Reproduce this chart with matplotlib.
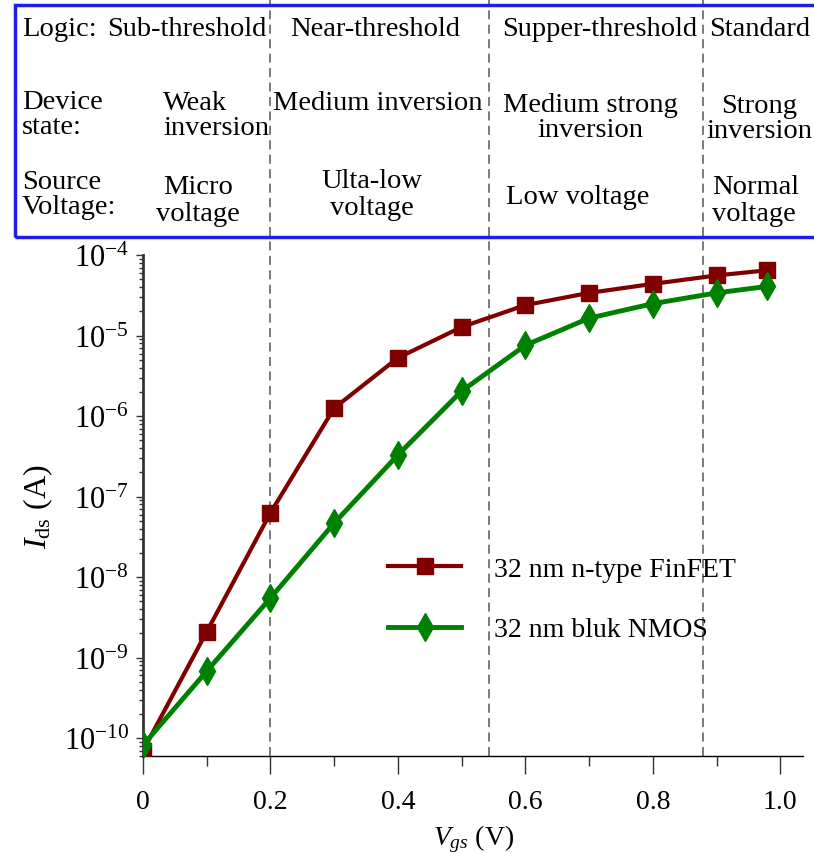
import matplotlib.pyplot as plt
from matplotlib.patches import Rectangle
from matplotlib.ticker import FixedLocator, FixedFormatter, LogLocator, NullFormatter

plt.rcParams['font.family'] = ['Liberation Serif', 'DejaVu Serif']
plt.rcParams['mathtext.fontset'] = 'custom'
plt.rcParams['mathtext.rm'] = 'Liberation Serif'
plt.rcParams['mathtext.it'] = 'Liberation Serif:italic'

# data
vgs = [0.0, 0.1, 0.2, 0.3, 0.4, 0.5, 0.6, 0.7, 0.8, 0.9, 0.98]
ids_finfet = [0.7e-10, 2.1e-9, 6.3e-8, 1.26e-6, 5.3e-6, 1.28e-5, 2.4e-5, 3.4e-5, 4.4e-5, 5.6e-5, 6.5e-5]
ids_nmos = [0.82e-10, 0.68e-9, 5.5e-9, 4.7e-8, 3.3e-7, 2.05e-6, 7.6e-6, 1.65e-5, 2.5e-5, 3.4e-5, 4.1e-5]
region_bounds = [0.2, 0.543, 0.879]

xticks = [0, 0.2, 0.4, 0.6, 0.8, 1.0]
xtick_labels = ['0', '0.2', '0.4', '0.6', '0.8', '1.0']
yticks = [1e-10, 1e-9, 1e-8, 1e-7, 1e-6, 1e-5, 1e-4]
ytick_labels = ['10$^{-10}$', '10$^{-9}$', '10$^{-8}$', '10$^{-7}$', '10$^{-6}$', '10$^{-5}$', '10$^{-4}$']

fig = plt.figure(figsize=(8.14, 8.54), dpi=100)
ax = fig.add_axes([0.1757, 0.1136, 0.811, 0.5864])

ax.plot(vgs, ids_finfet, color='#800000', lw=3, marker='s', ms=11, label='32 nm n-type FinFET', zorder=3)
ax.plot(vgs, ids_nmos, color='#008000', lw=3.5, marker='d', ms=14, label='32 nm bluk NMOS', zorder=3)

ax.set_yscale('log')
ax.set_xlim(0, 1.036)
ax.set_ylim(0.6e-10, 1e-4)

ax.yaxis.set_major_locator(FixedLocator(yticks))
ax.yaxis.set_major_formatter(FixedFormatter(ytick_labels))
ax.yaxis.set_minor_locator(LogLocator(base=10, subs=range(2, 10)))
ax.yaxis.set_minor_formatter(NullFormatter())
ax.set_xticks(xticks)
ax.set_xticklabels(xtick_labels)
ax.set_xticks([0.1, 0.3, 0.5, 0.7, 0.9], minor=True)

ax.tick_params(axis='x', which='major', direction='out', length=13, width=1, labelsize=20, pad=11, color='#333333')
ax.tick_params(axis='x', which='minor', direction='out', length=7, width=1, color='#333333')
ax.tick_params(axis='y', which='major', direction='out', length=5, width=1, labelsize=22, pad=5, color='#333333')
ax.tick_params(axis='y', which='minor', direction='out', length=3, width=1, color='#333333')

ax.spines['top'].set_visible(False)
ax.spines['right'].set_visible(False)
ax.spines['left'].set_color('#333333')
ax.spines['left'].set_linewidth(2)
ax.spines['bottom'].set_color('black')
ax.spines['bottom'].set_linewidth(1)

for xb in region_bounds:
    ax.axvline(xb, ymin=0, ymax=1.52, color='#707070', lw=1.3, ls=(0, (5, 3)), clip_on=False, zorder=1)

ax.set_xlabel('$V_{gs}$ (V)', fontsize=20, labelpad=6)
ax.set_ylabel('$I_{\\rm ds}$ (A)', fontsize=23, labelpad=6)

ax.legend(loc='upper left', bbox_to_anchor=(0.355, 0.42), frameon=False, fontsize=20,
          handlelength=2.6, handletextpad=1.2, labelspacing=1.25, borderaxespad=0)

# header box with regions
fig.patches.append(Rectangle((0.0184, 0.7213), 1.0, 0.272, transform=fig.transFigure,
                             fill=False, edgecolor='#1f1fe6', lw=2.5))

def ftext(x, y, s, ha='left', ls=1.0):
    fig.text(x / 814, 1 - y / 854, s, ha=ha, va='center', fontsize=20.5, linespacing=ls)

ftext(22, 30, 'Logic:')
ftext(107, 30, 'Sub-threshold')
ftext(375, 30, 'Near-threshold', ha='center')
ftext(600, 30, 'Supper-threshold', ha='center')
ftext(709, 30, 'Standard')

ftext(22, 115, 'Device\nstate:')
ftext(163, 116, 'Weak\ninversion')
ftext(378, 104, 'Medium inversion', ha='center')
ftext(590, 118, 'Medium strong\ninversion', ha='center')
ftext(759, 119, 'Strong\ninversion', ha='center')

ftext(22, 195, 'Source\nVoltage:')
ftext(198, 201, 'Micro\nvoltage', ha='center', ls=1.15)
ftext(372, 195, 'Ulta-low\nvoltage', ha='center', ls=1.15)
ftext(578, 197, 'Low voltage', ha='center')
ftext(712, 201, 'Normal\nvoltage', ls=1.15)

fig.savefig('out.png', dpi=100)
